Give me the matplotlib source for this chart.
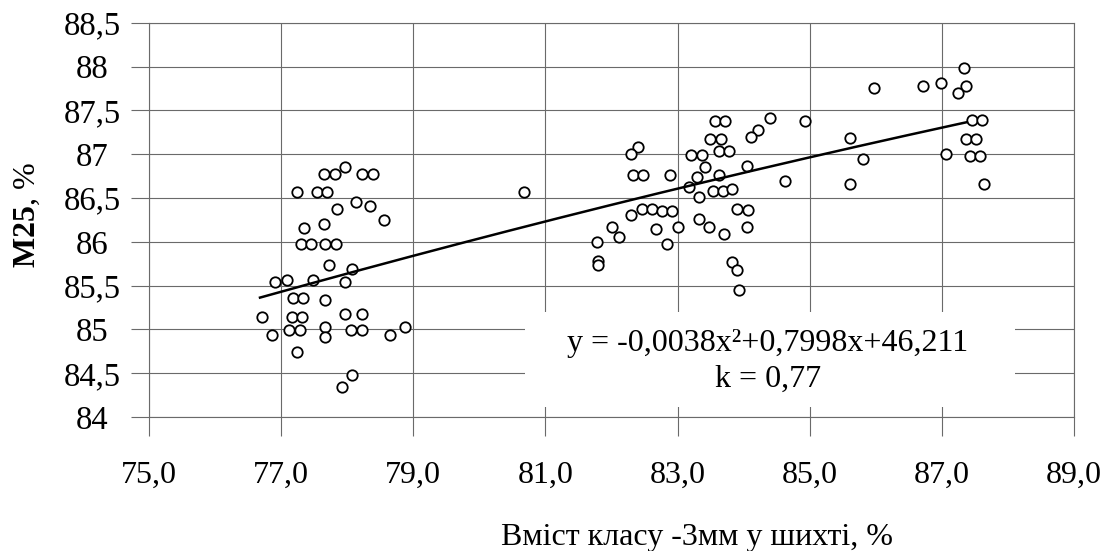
import numpy as np
import matplotlib
matplotlib.use("Agg")
import matplotlib.pyplot as plt
from matplotlib.patches import Rectangle

# ---- data ----
x_left = [77.96, 77.65, 77.81, 78.23, 78.39, 77.24, 77.54, 77.70, 78.14, 78.35,
          77.85, 78.56, 77.34, 77.65, 77.30, 77.45, 77.67, 77.83, 77.73, 78.07,
          76.90, 77.09, 77.48, 77.96, 77.18, 77.33, 77.66, 76.71, 77.17, 77.32,
          77.96, 78.23, 78.87, 76.86, 77.12, 77.28, 77.66, 77.66, 78.05, 78.22,
          78.64, 77.24, 78.07, 77.92]
y_left = [86.85, 86.77, 86.77, 86.77, 86.77, 86.565, 86.565, 86.565, 86.455, 86.41,
          86.37, 86.25, 86.16, 86.20, 85.98, 85.98, 85.98, 85.98, 85.74, 85.69,
          85.536, 85.56, 85.56, 85.536, 85.354, 85.354, 85.34, 85.14, 85.146, 85.146,
          85.17, 85.17, 85.025, 84.94, 84.99, 84.99, 85.025, 84.91, 84.99, 84.99,
          84.94, 84.745, 84.484, 84.34]

x_mid = [80.67, 83.57, 83.72, 84.40, 84.21, 84.11, 83.49, 83.65, 82.40, 82.29,
         83.21, 83.37, 83.62, 83.78, 83.41, 84.05, 84.62, 82.33, 82.48, 82.89,
         83.29, 83.62, 83.17, 83.33, 83.53, 83.68, 83.83, 82.30, 82.46, 82.61,
         82.77, 82.92, 83.90, 84.06, 82.00, 82.11, 82.68, 83.00, 83.33, 83.48,
         83.71, 84.05, 81.785, 82.84, 81.80, 81.80, 83.83, 83.90, 83.93]
y_mid = [86.57, 87.377, 87.377, 87.41, 87.275, 87.20, 87.17, 87.17, 87.077, 87.00,
         86.99, 86.99, 87.035, 87.035, 86.855, 86.863, 86.69, 86.76, 86.76, 86.76,
         86.74, 86.76, 86.63, 86.506, 86.58, 86.58, 86.60, 86.31, 86.37, 86.37,
         86.35, 86.35, 86.376, 86.36, 86.17, 86.056, 86.14, 86.167, 86.255, 86.17,
         86.083, 86.17, 85.996, 85.97, 85.78, 85.74, 85.77, 85.68, 85.455]

x_right = [84.93, 85.61, 85.81, 85.61, 85.97, 86.72, 86.99, 87.33, 87.36, 87.25,
           87.46, 87.61, 87.37, 87.52, 87.06, 87.42, 87.58, 87.64]
y_right = [87.377, 87.18, 86.94, 86.66, 87.76, 87.777, 87.81, 87.98, 87.777, 87.70,
           87.385, 87.385, 87.17, 87.17, 87.00, 86.98, 86.98, 86.66]

x_ticks = [75, 77, 79, 81, 83, 85, 87, 89]
x_tick_labels = ["75,0", "77,0", "79,0", "81,0", "83,0", "85,0", "87,0", "89,0"]
y_ticks = [84, 84.5, 85, 85.5, 86, 86.5, 87, 87.5, 88, 88.5]
y_tick_labels = ["84", "84,5", "85", "85,5", "86", "86,5", "87", "87,5", "88", "88,5"]

# trend curve as drawn in the reference (quadratic coefficients, highest power first)
trend_coef = [-0.00221, 0.5497, 56.206]
trend_x_range = (76.68, 87.38)
equation_text = "y = -0,0038x²+0,7998x+46,211"
k_text = "k = 0,77"
x_label = "Вміст класу -3мм у шихті, %"
y_label = r"$\mathbf{M25}$, %"

# ---- figure ----
plt.rcParams["font.family"] = ["Liberation Serif", "DejaVu Serif"]
plt.rcParams["mathtext.fontset"] = "custom"
plt.rcParams["mathtext.bf"] = "Liberation Serif:bold"
plt.rcParams["mathtext.rm"] = "Liberation Serif"

W, H = 1117, 551
fig = plt.figure(figsize=(W / 100, H / 100), dpi=100)
ax = fig.add_axes([149 / W, 1 - 417 / H, 925 / W, 394.3 / H])

xs = np.array(x_left + x_mid + x_right)
ys = np.array(y_left + y_mid + y_right)

gcol = "#6a6a6a"
ax.set_xlim(75, 89)
ax.set_ylim(84, 88.5)
ax.set_xticks(x_ticks)
ax.set_xticklabels(x_tick_labels)
ax.set_yticks(y_ticks)
ax.set_yticklabels(y_tick_labels)
ax.grid(True, color=gcol, lw=0.8)
for s in ax.spines.values():
    s.set_color(gcol)
    s.set_linewidth(0.8)

ax.tick_params(axis="x", direction="out", length=13.7, width=0.8, color=gcol,
               labelsize=23, pad=18)
ax.tick_params(axis="y", direction="out", length=13, width=0.8, color=gcol,
               labelsize=23.5, pad=28)
for lbl in ax.get_yticklabels():
    lbl.set_horizontalalignment("center")

# white box behind the equation
ax.add_patch(Rectangle((0.4065, 0.025), 0.5297, 0.241, transform=ax.transAxes,
                       facecolor="white", edgecolor="none", zorder=2))

xx = np.linspace(trend_x_range[0], trend_x_range[1], 200)
ax.plot(xx, np.polyval(trend_coef, xx), color="black", lw=1.8, zorder=4)

ax.plot(xs, ys, "o", mfc="white", mec="black", ms=7.5, mew=1.3, zorder=3,
        clip_on=False)

fig.text(768 / W, 1 - 343 / H, equation_text, ha="center", va="center", fontsize=23)
fig.text(768 / W, 1 - 379 / H, k_text, ha="center", va="center", fontsize=23)
fig.text(697 / W, 1 - 538 / H, x_label, ha="center", va="center", fontsize=23)
fig.text(27 / W, 1 - 215 / H, y_label, ha="center", va="center", fontsize=23,
         rotation=90)

fig.savefig("out.png", dpi=100)
